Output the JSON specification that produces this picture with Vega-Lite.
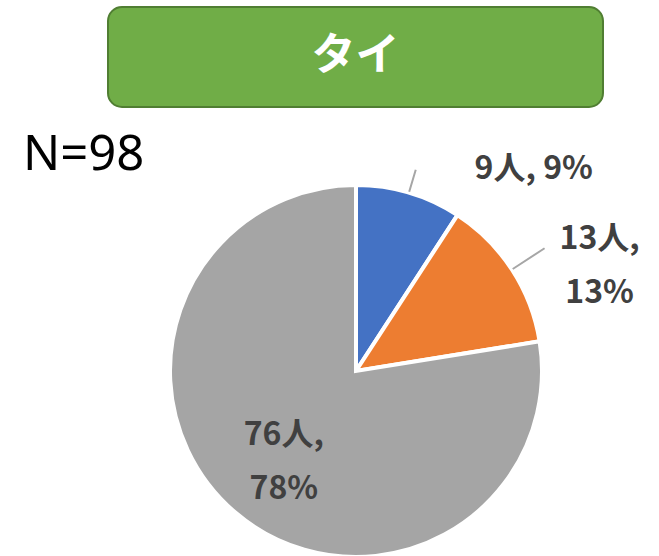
{
  "$schema": "https://vega.github.io/schema/vega-lite/v6.json",
  "padding": {"left": 22, "top": 6, "right": 0, "bottom": 0},
  "bounds": "flush",
  "spacing": 79,
  "config": {"view": {"stroke": null}, "font": "Noto Sans CJK JP"},
  "vconcat": [
    {
      "width": 495,
      "height": 100,
      "view": {"fill": "#70AD47", "stroke": "#507E32", "strokeWidth": 2, "cornerRadius": 14},
      "title": {
        "text": "N=98",
        "orient": "bottom",
        "anchor": "start",
        "frame": "group",
        "offset": 63,
        "dx": -85,
        "baseline": "alphabetic",
        "font": "Noto Sans",
        "fontSize": 49,
        "fontWeight": "normal",
        "color": "#000000"
      },
      "data": {"values": [{"name": "タイ"}]},
      "mark": {
        "type": "text",
        "font": "Noto Sans CJK JP",
        "fontWeight": "bold",
        "fontSize": 44,
        "color": "#FFFFFF",
        "align": "center",
        "baseline": "middle"
      },
      "encoding": {"text": {"field": "name", "type": "nominal"}}
    },
    {
      "width": 496,
      "height": 370,
      "data": {
        "values": [
          {"category": "a", "count": 9, "label": "9人, 9%"},
          {"category": "b", "count": 13, "label": "13人,\n13%"},
          {"category": "c", "count": 76, "label": "76人,\n78%"}
        ]
      },
      "encoding": {
        "theta": {"field": "count", "type": "quantitative", "stack": true},
        "order": {"field": "category", "type": "ordinal"},
        "detail": {"field": "category", "type": "nominal"}
      },
      "layer": [
        {
          "mark": {"type": "arc", "radius": 186, "stroke": "#FFFFFF", "strokeWidth": 4},
          "encoding": {
            "color": {
              "field": "category",
              "type": "nominal",
              "scale": {"domain": ["a", "b", "c"], "range": ["#4472C4", "#ED7D31", "#A5A5A5"]},
              "legend": null
            }
          }
        },
        {
          "mark": {"type": "arc", "radius": 210, "radius2": 187, "padAngle": 0.9, "fill": "transparent", "stroke": "#A6A6A6", "strokeWidth": 2},
          "encoding": {
            "opacity": {"condition": {"test": "datum.category === 'a'", "value": 1}, "value": 0}
          }
        },
        {
          "mark": {"type": "arc", "radius": 225, "radius2": 187, "padAngle": 0.9, "fill": "transparent", "stroke": "#A6A6A6", "strokeWidth": 2},
          "encoding": {
            "opacity": {"condition": {"test": "datum.category === 'b'", "value": 1}, "value": 0}
          }
        },
        {
          "mark": {"type": "text", "radius": 245, "dx": 108, "dy": 33, "align": "center", "baseline": "middle", "font": "Noto Sans CJK JP", "fontWeight": "bold", "fontSize": 32, "color": "#404040", "lineBreak": "\n", "lineHeight": 54},
          "encoding": {
            "text": {"field": "label", "type": "nominal"},
            "opacity": {"condition": {"test": "datum.category === 'a'", "value": 1}, "value": 0}
          }
        },
        {
          "mark": {"type": "text", "radius": 262, "dx": 24, "dy": 11, "align": "center", "baseline": "middle", "font": "Noto Sans CJK JP", "fontWeight": "bold", "fontSize": 32, "color": "#404040", "lineBreak": "\n", "lineHeight": 54},
          "encoding": {
            "text": {"field": "label", "type": "nominal"},
            "opacity": {"condition": {"test": "datum.category === 'b'", "value": 1}, "value": 0}
          }
        },
        {
          "mark": {"type": "text", "radius": 116, "dx": 3, "dy": -24, "align": "center", "baseline": "middle", "font": "Noto Sans CJK JP", "fontWeight": "bold", "fontSize": 32, "color": "#404040", "lineBreak": "\n", "lineHeight": 54},
          "encoding": {
            "text": {"field": "label", "type": "nominal"},
            "opacity": {"condition": {"test": "datum.category === 'c'", "value": 1}, "value": 0}
          }
        }
      ]
    }
  ]
}
